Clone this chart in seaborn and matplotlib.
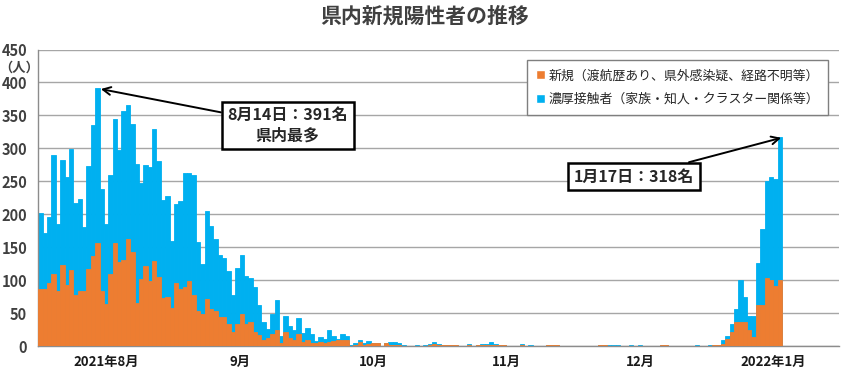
import numpy as np
import pandas as pd
from matplotlib import pyplot as plt
from matplotlib.patches import Patch
import seaborn as sns

# daily totals (new + close contacts) and new cases, 2021-08-01 .. 2022-01-17
aug_total = [202, 172, 196, 290, 185, 283, 257, 299, 217, 223, 180, 274, 336, 391, 238, 186,
             260, 345, 297, 357, 366, 337, 276, 247, 275, 271, 329, 281, 221, 227, 160]
aug_new = [86, 86, 96, 109, 84, 123, 92, 115, 78, 84, 84, 117, 136, 157, 84, 64,
           109, 157, 127, 131, 163, 143, 65, 102, 121, 99, 129, 105, 73, 75, 58]
sep_total = [216, 220, 263, 263, 259, 158, 124, 205, 182, 163, 139, 134, 114, 77, 119,
             138, 106, 104, 90, 62, 37, 26, 49, 70, 15, 46, 30, 24, 42, 20]
sep_new = [96, 87, 89, 99, 77, 53, 49, 71, 56, 53, 44, 44, 34, 21, 34,
           49, 34, 36, 22, 17, 10, 12, 19, 25, 5, 22, 12, 9, 18, 7]
oct_total = [27, 18, 8, 14, 11, 24, 15, 11, 18, 16, 2, 5, 10, 4, 8, 4,
             4, 0, 4, 6, 6, 4, 2, 0, 0, 2, 0, 1, 3, 6, 3]
oct_new = [10, 4, 5, 7, 4, 7, 8, 9, 10, 10, 0, 2, 7, 2, 3, 4,
           4, 0, 4, 2, 2, 1, 0, 0, 0, 0, 0, 0, 1, 3, 2]
nov_total = [1, 1, 1, 1, 0, 0, 3, 0, 1, 3, 3, 7, 3, 1, 1,
             0, 0, 0, 3, 0, 2, 0, 0, 0, 1, 1, 1, 0, 0, 0]
nov_new = [1, 1, 1, 1, 0, 0, 1, 0, 1, 2, 2, 2, 1, 1, 1,
           0, 0, 0, 1, 0, 0, 0, 0, 0, 1, 1, 1, 0, 0, 0]
dec_total = [0, 0, 0, 0, 0, 0, 1, 1, 2, 2, 1, 0, 0, 1, 0, 1,
             0, 0, 0, 0, 1, 1, 0, 0, 0, 0, 0, 0, 2, 0, 0]
dec_new = [0, 0, 0, 0, 0, 0, 1, 1, 0, 0, 0, 0, 0, 0, 0, 0,
           0, 0, 0, 0, 1, 1, 0, 0, 0, 0, 0, 0, 0, 0, 0]
jan_total = [1, 1, 2, 9, 15, 34, 56, 101, 74, 46, 45, 126, 177, 250, 256, 253, 318]
jan_new = [0, 1, 2, 3, 11, 21, 36, 36, 37, 24, 14, 62, 62, 103, 101, 91, 101]

month_labels = ['2021年8月', '9月', '10月', '11月', '12月', '2022年1月']
month_days = [31, 30, 31, 30, 31, 30]
yticks = [0, 50, 100, 150, 200, 250, 300, 350, 400, 450]

total = aug_total + sep_total + oct_total + nov_total + dec_total + jan_total
new = aug_new + sep_new + oct_new + nov_new + dec_new + jan_new
dates = pd.date_range('2021-08-01', periods=len(total), freq='D')
df = pd.DataFrame({'date': dates, 'total': total, 'new': new})
df['day'] = (df['date'] - df['date'].iloc[0]).dt.days

sns.set_style('white')
plt.rcParams['font.family'] = ['Noto Sans CJK JP', 'DejaVu Sans']

fig = plt.figure(figsize=(8.5, 3.75), dpi=100)
ax = fig.add_axes([0.045, 0.077, 0.942, 0.791])

blue = '#00B0F0'
orange = '#ED7D31'
sns.barplot(data=df, x='day', y='total', native_scale=True, width=1, color=blue,
            saturation=1, edgecolor=blue, linewidth=0.6, ax=ax, zorder=2)
sns.barplot(data=df, x='day', y='new', native_scale=True, width=1, color=orange,
            saturation=1, edgecolor=orange, linewidth=0.6, ax=ax, zorder=3)

bounds = np.concatenate([[0], np.cumsum(month_days)]) - 0.5
ax.set_xlim(bounds[0], bounds[-1])
ax.set_ylim(0, 450)
ax.set_yticks(yticks)
ax.set_yticklabels([str(v) for v in yticks], fontsize=10.5, fontweight='bold', color='#404040')
ax.set_xticks(bounds)
ax.set_xticklabels([])
ax.set_xticks((bounds[:-1] + bounds[1:]) / 2, minor=True)
ax.set_xticklabels(month_labels, minor=True, fontsize=9.5, fontweight='bold', color='#1a1a1a')
ax.tick_params(axis='x', which='major', length=5, color='#8c8c8c', width=1, direction='out')
ax.tick_params(axis='x', which='minor', length=0, pad=6)
ax.tick_params(axis='y', length=0, pad=8)
ax.set_xlabel('')
ax.set_ylabel('')
ax.yaxis.grid(True, color='#a6a6a6', linewidth=1)
ax.set_axisbelow(True)
for s in ['top', 'right']:
    ax.spines[s].set_visible(False)
for s in ['left', 'bottom']:
    ax.spines[s].set_color('#8c8c8c')
    ax.spines[s].set_linewidth(1)

fig.text(0.5, 0.958, '県内新規陽性者の推移', ha='center', va='center',
         fontsize=15, fontweight='bold', color='#404040')
fig.text(0.022, 0.82, '（人）', ha='center', va='center', fontsize=9.5,
         fontweight='bold', color='#404040')

handles = [Patch(facecolor=orange), Patch(facecolor=blue)]
leg = ax.legend(handles, ['新規（渡航歴あり、県外感染疑、経路不明等）',
                          '濃厚接触者（家族・知人・クラスター関係等）'],
                loc='upper right', bbox_to_anchor=(0.995, 0.985), fontsize=9.3,
                frameon=True, fancybox=False, edgecolor='#7f7f7f', framealpha=1,
                handlelength=0.7, handleheight=0.7, handletextpad=0.3,
                borderpad=0.7, labelspacing=0.8)
leg.get_frame().set_linewidth(1)

box = dict(boxstyle='square,pad=0.35', fc='white', ec='black', lw=1.8)
arrow = dict(arrowstyle='->', color='black', lw=1.4, mutation_scale=14, shrinkA=0, shrinkB=0)
ax.annotate('8月14日：391名\n県内最多', xy=(13.8, 390), xytext=(56.5, 335),
            ha='center', va='center', fontsize=11.5, fontweight='bold',
            bbox=box, arrowprops=arrow, zorder=5, linespacing=1.3)
ax.annotate('1月17日：318名', xy=(169.3, 316), xytext=(135.7, 257),
            ha='center', va='center', fontsize=11.5, fontweight='bold',
            bbox=box, arrowprops=arrow, zorder=5)

plt.savefig('out.png', dpi=100)
